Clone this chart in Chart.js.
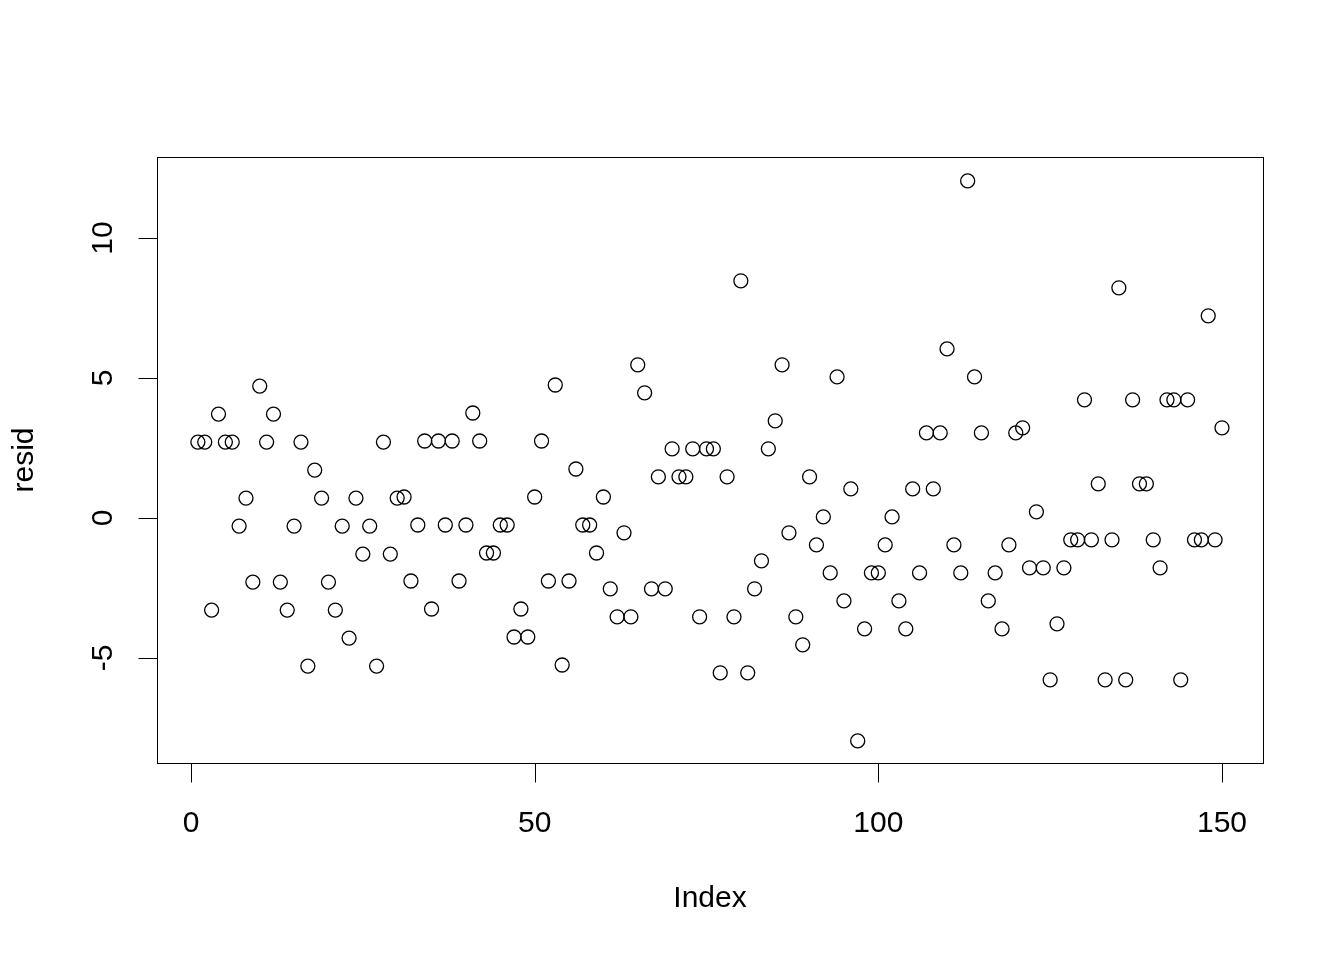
<!DOCTYPE html>
<html>
<head>
<meta charset="utf-8">
<script src="https://cdn.jsdelivr.net/npm/chart.js@4/dist/chart.umd.min.js"></script>
<style>
  html, body { margin: 0; padding: 0; background: #ffffff; }
  canvas { display: block; }
</style>
</head>
<body>
<canvas id="c" width="1344" height="960" style="width:1344px;height:960px"></canvas>
<script>
const indexValues = [
  1,2,3,4,5,6,7,8,9,10,11,12,13,14,15,16,17,18,19,20,
  21,22,23,24,25,26,27,28,29,30,31,32,33,34,35,36,37,38,39,40,
  41,42,43,44,45,46,47,48,49,50,51,52,53,54,55,56,57,58,59,60,
  61,62,63,64,65,66,67,68,69,70,71,72,73,74,75,76,77,78,79,80,
  81,82,83,84,85,86,87,88,89,90,91,92,93,94,95,96,97,98,99,100,
  101,102,103,104,105,106,107,108,109,110,111,112,113,114,115,116,117,118,119,120,
  121,122,123,124,125,126,127,128,129,130,131,132,133,134,135,136,137,138,139,140,
  141,142,143,144,145,146,147,148,149,150
];
const residValues = [
  2.71, 2.71, -3.29, 3.71, 2.71, 2.71, -0.29, 0.71, -2.29, 4.71,
  2.71, 3.71, -2.29, -3.29, -0.29, 2.71, -5.29, 1.71, 0.71, -2.29,
  -3.29, -0.29, -4.29, 0.71, -1.29, -0.29, -5.29, 2.71, -1.29, 0.71,
  0.75, -2.25, -0.25, 2.75, -3.25, 2.75, -0.25, 2.75, -2.25, -0.25,
  3.75, 2.75, -1.25, -1.25, -0.25, -0.25, -4.25, -3.25, -4.25, 0.75,
  2.75, -2.25, 4.75, -5.25, -2.25, 1.75, -0.25, -0.25, -1.25, 0.75,
  -2.53, -3.53, -0.53, -3.53, 5.47, 4.47, -2.53, 1.47, -2.53, 2.47,
  1.47, 1.47, 2.47, -3.53, 2.47, 2.47, -5.53, 1.47, -3.53, 8.47,
  -5.53, -2.53, -1.53, 2.47, 3.47, 5.47, -0.53, -3.53, -4.53, 1.47,
  -0.96, 0.04, -1.96, 5.04, -2.96, 1.04, -7.96, -3.96, -1.96, -1.96,
  -0.96, 0.04, -2.96, -3.96, 1.04, -1.96, 3.04, 1.04, 3.04, 6.04,
  -0.96, -1.96, 12.04, 5.04, 3.04, -2.96, -1.96, -3.96, -0.96, 3.04,
  3.22, -1.78, 0.22, -1.78, -5.78, -3.78, -1.78, -0.78, -0.78, 4.22,
  -0.78, 1.22, -5.78, -0.78, 8.22, -5.78, 4.22, 1.22, 1.22, -0.78,
  -1.78, 4.22, 4.22, -5.78, 4.22, -0.78, -0.78, 7.22, -0.78, 3.22
];
const xTickValues = [0, 50, 100, 150];
const xTickLabels = ["0", "50", "100", "150"];
const yTickValues = [-5, 0, 5, 10];
const yTickLabels = ["-5", "0", "5", "10"];
const xTitle = "Index";
const yTitle = "resid";

const FONT = '30px "Liberation Sans", Arial, Helvetica, sans-serif';

const rAxesPlugin = {
  id: 'rAxes',
  afterDraw(chart) {
    const ctx = chart.ctx;
    const a = chart.chartArea;
    const xs = chart.scales.x, ys = chart.scales.y;
    ctx.save();
    ctx.strokeStyle = '#000';
    ctx.fillStyle = '#000';
    ctx.lineWidth = 1;
    // box
    ctx.strokeRect(Math.round(a.left) + 0.5, Math.round(a.top) + 0.5,
                   Math.round(a.right - a.left), Math.round(a.bottom - a.top));
    ctx.font = FONT;
    // x axis
    const xb = Math.round(a.bottom) + 0.5;
    const x0 = xs.getPixelForValue(xTickValues[0]);
    const x1 = xs.getPixelForValue(xTickValues[xTickValues.length - 1]);
    ctx.beginPath();
    ctx.moveTo(x0, xb); ctx.lineTo(x1, xb);
    xTickValues.forEach(v => {
      const px = Math.round(xs.getPixelForValue(v)) + 0.5;
      ctx.moveTo(px, xb); ctx.lineTo(px, xb + 19);
    });
    ctx.stroke();
    ctx.textAlign = 'center';
    ctx.textBaseline = 'alphabetic';
    xTickValues.forEach((v, i) => {
      ctx.fillText(xTickLabels[i], xs.getPixelForValue(v), 832);
    });
    ctx.fillText(xTitle, (a.left + a.right) / 2, 907);
    // y axis
    const yl = Math.round(a.left) + 0.5;
    const y0 = ys.getPixelForValue(yTickValues[0]);
    const y1 = ys.getPixelForValue(yTickValues[yTickValues.length - 1]);
    ctx.beginPath();
    ctx.moveTo(yl, y0); ctx.lineTo(yl, y1);
    yTickValues.forEach(v => {
      const py = Math.round(ys.getPixelForValue(v)) + 0.5;
      ctx.moveTo(yl, py); ctx.lineTo(yl - 19, py);
    });
    ctx.stroke();
    yTickValues.forEach((v, i) => {
      ctx.save();
      ctx.translate(112, ys.getPixelForValue(v));
      ctx.rotate(-Math.PI / 2);
      ctx.textAlign = 'center';
      ctx.textBaseline = 'alphabetic';
      ctx.fillText(yTickLabels[i], 0, 0);
      ctx.restore();
    });
    ctx.save();
    ctx.translate(33, (a.top + a.bottom) / 2);
    ctx.rotate(-Math.PI / 2);
    ctx.textAlign = 'center';
    ctx.textBaseline = 'alphabetic';
    ctx.fillText(yTitle, 0, 0);
    ctx.restore();
    ctx.restore();
  }
};

new Chart(document.getElementById('c'), {
  type: 'scatter',
  data: {
    datasets: [{
      data: indexValues.map((x, i) => ({ x: x, y: residValues[i] })),
      pointStyle: 'circle',
      pointRadius: 7,
      pointBorderWidth: 1.3,
      pointBorderColor: '#000',
      pointBackgroundColor: 'rgba(0,0,0,0)',
      showLine: false
    }]
  },
  options: {
    responsive: false,
    devicePixelRatio: 1,
    animation: false,
    events: [],
    layout: { padding: { left: 157, right: 81, top: 157, bottom: 197 } },
    plugins: { legend: { display: false }, tooltip: { enabled: false } },
    scales: {
      x: { type: 'linear', min: -4.947, max: 155.97, display: false },
      y: { type: 'linear', min: -8.75, max: 12.893, display: false }
    }
  },
  plugins: [rAxesPlugin]
});
</script>
</body>
</html>
